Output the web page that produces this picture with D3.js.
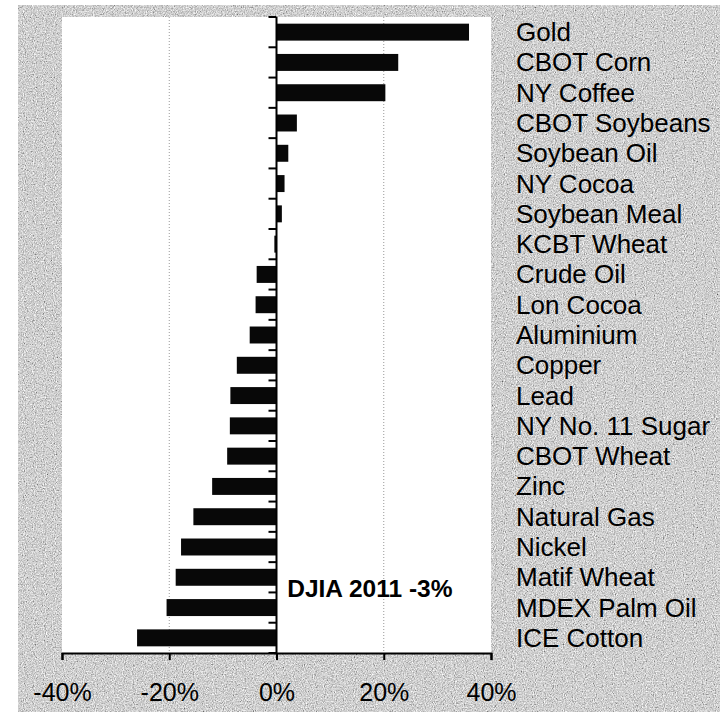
<!DOCTYPE html>
<html lang="en">
<head>
<meta charset="UTF-8">
<title>Commodities 2011</title>
<script src="https://d3js.org/d3.v7.min.js"></script>
<style>
    body { margin: 0; background: #fff; }
    svg text { font-family: "Liberation Sans", Arial, sans-serif; fill: #000; }
</style>
</head>
<body>
<svg width="720" height="712"></svg>
<script>
    // 2011 returns (percent)
    const commodities = ["Gold", "CBOT Corn", "NY Coffee", "CBOT Soybeans", "Soybean Oil",
        "NY Cocoa", "Soybean Meal", "KCBT Wheat", "Crude Oil", "Lon Cocoa", "Aluminium",
        "Copper", "Lead", "NY No. 11 Sugar", "CBOT Wheat", "Zinc", "Natural Gas", "Nickel",
        "Matif Wheat", "MDEX Palm Oil", "ICE Cotton"];
    const returns = [35.9, 22.7, 20.3, 3.8, 2.2, 1.5, 1.0, -0.4, -3.7, -3.9, -5.0,
        -7.4, -8.6, -8.7, -9.2, -12.0, -15.5, -17.8, -18.8, -20.5, -26.0];
    const xTicks = [-40, -20, 0, 20, 40];
    const note = "DJIA 2011 -3%";

    const svg = d3.select("svg");

    // grainy grey backdrop like the scanned original
    const defs = svg.append("defs");
    const grain = defs.append("filter").attr("id", "grain")
        .attr("x", 0).attr("y", 0).attr("width", 1).attr("height", 1);
    grain.append("feTurbulence")
        .attr("type", "fractalNoise")
        .attr("baseFrequency", "0.9 0.7")
        .attr("numOctaves", 2)
        .attr("seed", 7);
    grain.append("feColorMatrix")
        .attr("type", "matrix")
        .attr("values", "0.33 0.33 0.33 0 0  0.33 0.33 0.33 0 0  0.33 0.33 0.33 0 0  0 0 0 0 1");
    const ct = grain.append("feComponentTransfer");
    ["feFuncR", "feFuncG", "feFuncB"].forEach(f =>
        ct.append(f).attr("type", "linear").attr("slope", 1.9).attr("intercept", -0.32));

    svg.append("rect")
        .attr("x", 18).attr("y", 5)
        .attr("width", 702).attr("height", 707)
        .attr("fill", "#aaa")
        .attr("filter", "url(#grain)");

    const x = d3.scaleLinear().domain([-40, 40]).range([62, 491]);
    const y = d3.scaleBand().domain(commodities).range([17, 653])
        .paddingInner(0.44).paddingOuter(0.22);

    // white plot area
    svg.append("rect")
        .attr("x", x(-40)).attr("y", y.range()[0])
        .attr("width", x(40) - x(-40))
        .attr("height", y.range()[1] - y.range()[0])
        .attr("fill", "#fff");

    // dotted gridlines
    svg.append("g")
        .selectAll("line")
        .data([-20, 20])
        .join("line")
        .attr("x1", d => x(d)).attr("x2", d => x(d))
        .attr("y1", y.range()[0]).attr("y2", y.range()[1])
        .attr("stroke", "#999")
        .attr("stroke-width", 1)
        .attr("stroke-dasharray", "1,2");

    // bars
    svg.append("g")
        .selectAll("rect")
        .data(commodities)
        .join("rect")
        .attr("x", (d, i) => x(Math.min(0, returns[i])))
        .attr("y", d => y(d))
        .attr("width", (d, i) => Math.abs(x(returns[i]) - x(0)))
        .attr("height", y.bandwidth())
        .attr("fill", "#080808");

    // vertical zero axis with category ticks on the left
    const zero = svg.append("g");
    zero.append("line")
        .attr("x1", x(0)).attr("x2", x(0))
        .attr("y1", y.range()[0]).attr("y2", y.range()[1])
        .attr("stroke", "#000").attr("stroke-width", 2);
    zero.selectAll("line.tick")
        .data(d3.range(commodities.length + 1))
        .join("line")
        .attr("class", "tick")
        .attr("x1", x(0) - 8).attr("x2", x(0))
        .attr("y1", i => y.range()[0] + i * y.step())
        .attr("y2", i => y.range()[0] + i * y.step())
        .attr("stroke", "#000").attr("stroke-width", 2);

    // bottom axis
    const xAxis = svg.append("g")
        .attr("transform", `translate(0,${y.range()[1]})`)
        .call(d3.axisBottom(x).tickValues(xTicks)
            .tickFormat(d => d + "%").tickSize(7).tickPadding(23));
    xAxis.select(".domain").attr("stroke-width", 2);
    xAxis.selectAll(".tick line").attr("stroke-width", 2);
    xAxis.selectAll(".tick text")
        .attr("font-size", 25)
        .attr("font-family", "Liberation Sans, Arial, sans-serif");

    // category labels on the right
    svg.append("g")
        .selectAll("text")
        .data(commodities)
        .join("text")
        .attr("x", 516)
        .attr("y", d => y(d) + y.bandwidth() / 2 + 9)
        .attr("font-size", 26)
        .text(d => d);

    // annotation
    svg.append("text")
        .attr("x", x(2))
        .attr("y", y.range()[0] + 19 * y.step() + 4.5)
        .attr("font-size", 24.5)
        .attr("font-weight", "bold")
        .text(note);
</script>
</body>
</html>
